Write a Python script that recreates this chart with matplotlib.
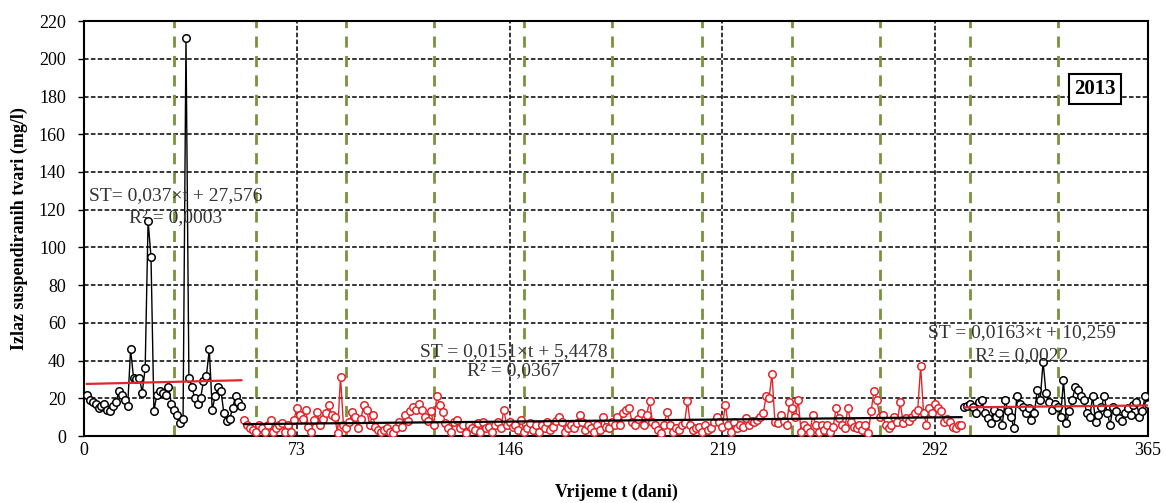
import numpy as np
import matplotlib
matplotlib.use("Agg")
import matplotlib.pyplot as plt

plt.rcParams['font.family'] = ['Liberation Serif', 'DejaVu Serif']

# ---------------- data ----------------
# Jan-Feb (days 1-54), black series
black1_values = [22, 19, 18, 17, 15, 16, 17, 14, 13, 16,
                 18, 24, 22, 19, 16, 46, 31, 30, 31, 23,
                 36, 114, 95, 13, 22, 24, 23, 22, 26, 17,
                 14, 11, 7, 9, 211, 31, 26, 20, 17, 20,
                 29, 32, 46, 14, 21, 26, 24, 12, 8, 9,
                 15, 21, 18, 16]
black1_start = 1

# days 55-301, red series
red_values = [8.5, 6, 4, 3, 2, 6, 4, 2, 6, 8.5, 2, 4, 6, 7, 2, 6, 2, 8.5,          # 55-72
              14.7, 11, 9, 14, 5, 2, 8.5, 12.5, 6, 9,                               # 73-82
              12, 16.5, 11, 10, 1.5, 31.5, 6, 4, 7.6, 12.5,                         # 83-92
              10, 4, 9, 16.5, 14, 6, 11, 5, 3, 2,                                   # 93-102
              3, 4, 2, 1.5, 4, 7.6, 5, 11, 8, 13,                                   # 103-112
              15.5, 14, 17, 14, 10, 8, 13, 6, 21, 16.5,                             # 113-122
              12.5, 7, 4, 2, 7.6, 8.5, 4, 6,                                        # 123-130
              1.5, 6, 4, 3, 6.7, 2, 7.6, 4, 5, 2,                                   # 131-140
              6, 7.6, 4, 14, 6,                                                     # 141-145
              7.6, 5, 6, 3, 8.5, 2, 4, 6.7, 3, 6,                                   # 146-155
              2, 6, 4, 7.6, 3, 5, 8, 10, 7.6, 2,                                    # 156-165
              4, 6, 4, 7, 11, 7.6, 3, 6, 4, 2,                                      # 166-175
              6, 3, 10, 5, 4, 7.6, 6, 10, 6, 12,                                    # 176-185
              14, 14.7, 7.6, 6, 9, 12, 6, 11, 18.6, 7.6,                            # 186-195
              6, 3, 1.5, 6, 12.5, 6, 2, 4, 3, 6,                                    # 196-205
              6.7, 18.6, 6, 3, 4, 5, 2, 6, 3, 4,                                    # 206-215
              7.6, 10,                                                              # 216-217
              7.6, 5, 16.5, 6, 2, 7.6, 4, 6, 5, 9.4,                                # 218-227
              6, 8, 7.6, 8.5, 10, 12, 21, 20, 33, 7.6,                              # 228-237
              6.7, 11, 8, 6, 18, 14.7, 10, 19, 2, 6,                                # 238-247
              4, 2, 11, 6, 2, 6, 3, 6, 2, 5,                                        # 248-257
              14.7, 9.4, 6, 4, 14.7, 7.6, 5, 4, 6, 3,                               # 258-267
              6, 1.5, 13, 24, 19, 10, 11, 6, 4, 6,                                  # 268-277
              10, 7.6, 18, 6.7, 9.4, 8, 10, 12, 14, 37,                             # 278-287
              12, 6, 14.7,                                                          # 288-290
              12, 17, 15, 13, 7.6, 9, 7.6, 5, 4, 6, 6]                              # 291-301
red_start = 55

# days 302-365, black series
black2_values = [15.5, 16, 17, 15.5, 12, 18, 19, 12, 9.4, 7,
                 14, 10, 12, 6, 19, 13, 10, 4, 21, 17,
                 15.5, 12, 14.7, 8.5, 12, 24.4, 19, 39.4, 22.6, 18,
                 14, 17, 15.5, 10, 29.7, 6.7, 13, 19, 26, 24.4,
                 21, 19, 12, 10, 21, 7.6, 11, 15.5, 21, 12,
                 6, 15.5, 13, 9.4, 8, 12, 14.7, 11, 16.5, 18,
                 10, 13, 21, 17]
black2_start = 302

# linear trends: (slope, intercept)
trend1 = (0.037, 27.576)
trend2 = (0.0151, 5.4478)
trend3 = (0.0163, 10.259)
trend_labels = [("ST= 0,037×t + 27,576", "R² = 0,0003"),
                ("ST = 0,0151×t + 5,4478", "R² = 0,0367"),
                ("ST = 0,0163×t + 10,259", "R² = 0,0022")]

month_bounds = [31, 59, 90, 120, 151, 181, 212, 243, 273, 304, 334]
x_ticks = [0, 73, 146, 219, 292, 365]
y_ticks = list(range(0, 221, 20))
year_label = "2013"

# ---------------- figure ----------------
fig = plt.figure(figsize=(11.66, 5.03), dpi=100)
ax = fig.add_axes([0.072, 0.1332, 0.9126, 0.8248])
ax.set_xlim(0, 365)
ax.set_ylim(0, 220)

red = '#E0262B'
green = '#77933C'

# grid
for y in y_ticks[1:-1]:
    ax.axhline(y, color='black', lw=1.1, ls=(0, (3, 1.5)), zorder=1)
for x in x_ticks[1:-1]:
    ax.axvline(x, color='black', lw=1.1, ls=(0, (3, 1.5)), zorder=1)
for x in month_bounds:
    ax.axvline(x, color=green, lw=2.0, ls=(0, (4, 3)), zorder=2)

def series(vals, start, color):
    x = np.arange(start, start + len(vals))
    ax.plot(x, vals, color=color, lw=1.0, marker='o', ms=5.4, mfc='white',
            mec=color, mew=1.1, zorder=3)
    return x

x1 = series(black1_values, black1_start, 'black')
x2 = series(red_values, red_start, red)
x3 = series(black2_values, black2_start, 'black')

def trend(coef, xs, color):
    t = np.array([xs[0], xs[-1]], dtype=float)
    ax.plot(t, coef[0] * t + coef[1], color=color, lw=1.6, zorder=4)

trend(trend1, x1, red)
trend(trend2, x2, 'black')
trend(trend3, x3, red)

# equations
tc = '#333333'
fs = 14
pos = [(31.6, 127.5, 116.0), (147.5, 44.5, 34.5), (321.8, 54.6, 42.5)]
for (l1, l2), (xc, y1, y2) in zip(trend_labels, pos):
    ax.text(xc, y1, l1, ha='center', va='center', fontsize=fs, color=tc, zorder=5)
    ax.text(xc, y2, l2, ha='center', va='center', fontsize=fs, color=tc, zorder=5)

ax.text(346.8, 184, year_label, ha='center', va='center', fontsize=15,
        fontweight='bold', zorder=6,
        bbox=dict(boxstyle='square,pad=0.25', fc='white', ec='black', lw=1.5))

# axes styling
ax.set_xticks(x_ticks)
ax.set_yticks(y_ticks)
ax.tick_params(axis='both', labelsize=13, direction='out', width=1)
ax.tick_params(axis='x', length=0, pad=4)
ax.tick_params(axis='y', length=4, pad=9)
for s in ax.spines.values():
    s.set_linewidth(1.5)
    s.set_color('black')

ax.set_xlabel("Vrijeme t (dani)", fontsize=13, fontweight='bold')
ax.set_ylabel("Izlaz suspendiranih tvari (mg/l)", fontsize=13, fontweight='bold')
ax.xaxis.set_label_coords(0.5, -0.115)
ax.yaxis.set_label_coords(-0.053, 0.5)

fig.savefig("out.png", dpi=100)
